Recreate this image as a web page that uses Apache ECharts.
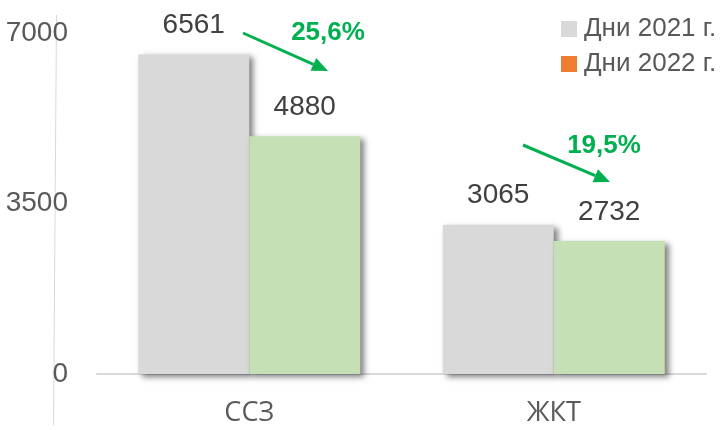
<!DOCTYPE html>
<html>
<head>
<meta charset="utf-8">
<script src="https://cdn.jsdelivr.net/npm/echarts@6/dist/echarts.min.js"></script>
<style>html,body{margin:0;padding:0;background:#fff;}#c{width:722px;height:430px;}</style>
</head>
<body>
<div id="c"></div>
<script>
const categories = ['ССЗ', 'ЖКТ'];
const days2021 = [6561, 3065];
const days2022 = [4880, 2732];
const seriesNames = ['Дни 2021 г.', 'Дни 2022 г.'];
const yTicks = [0, 3500, 7000];
const changeLabels = ['25,6%', '19,5%'];

const FONT = '"Liberation Sans", Arial, sans-serif';
const GREEN = '#00B050';

const chart = echarts.init(document.getElementById('c'), null, {renderer: 'canvas'});

const shadow = {shadowColor: 'rgba(0,0,0,0.5)', shadowBlur: 6, shadowOffsetX: 4, shadowOffsetY: 3};

function arrow(x1, y1, x2, y2) {
  const dx = x2 - x1, dy = y2 - y1, len = Math.sqrt(dx * dx + dy * dy);
  const ux = dx / len, uy = dy / len;
  const hl = 16, hw = 7;
  const bx = x2 - ux * hl, by = y2 - uy * hl;
  return [
    {type: 'line', shape: {x1: x1, y1: y1, x2: bx, y2: by}, style: {stroke: GREEN, lineWidth: 3}},
    {type: 'polygon', shape: {points: [[x2, y2], [bx - uy * hw, by + ux * hw], [bx + uy * hw, by - ux * hw]]}, style: {fill: GREEN}}
  ];
}

const option = {
  animation: false,
  grid: {left: 97, right: 16, top: 33, bottom: 56, containLabel: false, outerBoundsMode: 'none'},
  legend: {
    orient: 'vertical', left: 556, top: 11,
    itemWidth: 16, itemHeight: 16, itemGap: 9,
    icon: 'rect',
    data: [
      {name: seriesNames[0], itemStyle: {color: '#D9D9D9', shadowBlur: 0, shadowOffsetX: 0, shadowOffsetY: 0}},
      {name: seriesNames[1], itemStyle: {color: '#ED7D31', shadowBlur: 0, shadowOffsetX: 0, shadowOffsetY: 0}}
    ],
    textStyle: {fontFamily: FONT, fontSize: 26, color: '#595959', padding: [0, 0, 0, 2]}
  },
  xAxis: {
    type: 'category', data: categories,
    axisLine: {lineStyle: {color: '#D9D9D9', width: 2}},
    axisTick: {show: false},
    axisLabel: {fontFamily: '"Open Sans", "Noto Sans", sans-serif', fontSize: 27, color: '#595959', margin: 26}
  },
  yAxis: {
    type: 'value', min: yTicks[0], max: yTicks[yTicks.length - 1], interval: yTicks[1] - yTicks[0],
    axisLine: {show: false}, axisTick: {show: false}, splitLine: {show: false},
    axisLabel: {fontFamily: FONT, fontSize: 28, color: '#595959', margin: 29, formatter: v => String(v)}
  },
  series: [
    {
      name: seriesNames[0], type: 'bar', data: days2021, barWidth: 111, barGap: '0%',
      itemStyle: Object.assign({color: '#D9D9D9'}, shadow),
      label: {show: true, position: 'top', distance: 15, fontFamily: FONT, fontSize: 28, color: '#404040'}
    },
    {
      name: seriesNames[1], type: 'bar', data: days2022, barWidth: 111,
      itemStyle: Object.assign({color: '#C5E0B4'}, shadow),
      label: {show: true, position: 'top', distance: 15, fontFamily: FONT, fontSize: 28, color: '#404040'}
    }
  ],
  graphic: [
    {type: 'line', shape: {x1: 56.5, y1: 15, x2: 53.5, y2: 425}, style: {stroke: '#D9D9D9', lineWidth: 1}, z: 0},
    ...arrow(243, 33, 328, 71),
    ...arrow(523, 145, 610, 182),
    {type: 'text', x: 328, y: 33, style: {text: changeLabels[0], fill: GREEN, font: 'bold 26px ' + FONT, textAlign: 'center', textVerticalAlign: 'middle'}},
    {type: 'text', x: 604, y: 146, style: {text: changeLabels[1], fill: GREEN, font: 'bold 26px ' + FONT, textAlign: 'center', textVerticalAlign: 'middle'}}
  ]
};
chart.setOption(option);
</script>
</body>
</html>
